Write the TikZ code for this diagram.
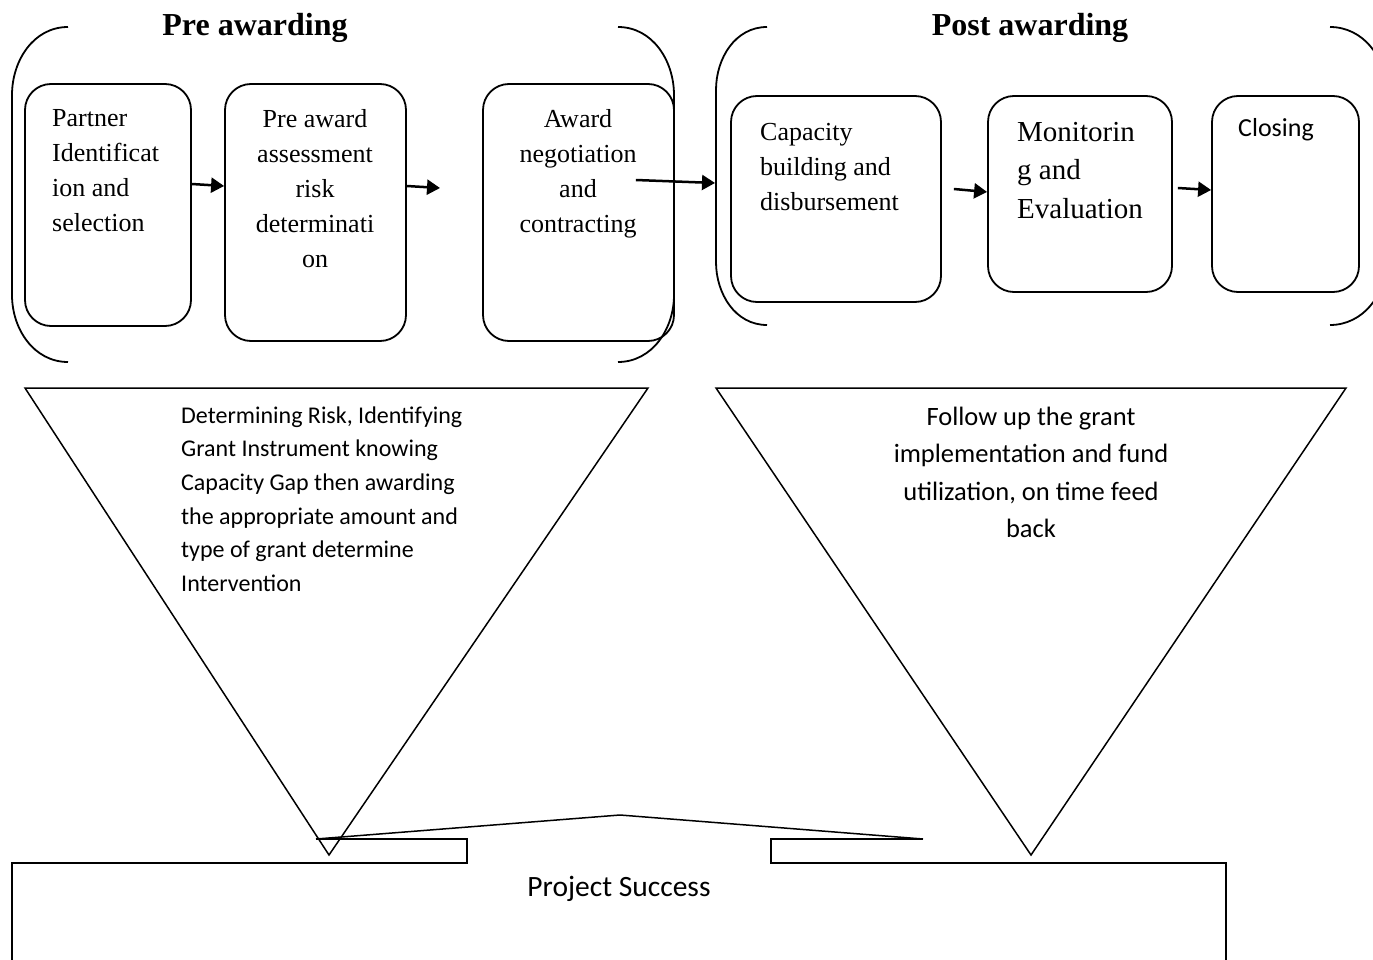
\documentclass[tikz,border=0pt]{standalone}
\usepackage{fontspec}
\setmainfont{Liberation Serif}
\newfontfamily\calibri{Carlito}
\usetikzlibrary{arrows.meta}

\begin{document}
\begin{tikzpicture}[x=1pt, y=-1pt,
		stage/.style = {draw, line width=1.8pt, rounded corners=26pt, inner sep=0pt},
		boxtext/.style = {inner sep=0pt, font=\fontsize{26}{35}\selectfont, execute at begin node=\strut},
		heading/.style = {inner sep=0pt, font=\fontsize{32}{36}\selectfont\bfseries},
		flow/.style = {line width=2.5pt, -{Triangle[length=13pt,width=15pt]}},
		bracket/.style = {line width=1.8pt},
		funnel/.style = {line width=1.5pt, line join=miter}]
	\useasboundingbox (0,0) rectangle (1373,960);

	% brackets and headings
	\draw[bracket] (68,27) to[out=180,in=90] (12,95) -- (12,295) to[out=-90,in=180] (68,362);
	\draw[bracket] (618,27) to[out=0,in=90] (674,95) -- (674,295) to[out=-90,in=0] (618,362);
	\draw[bracket] (767,27) to[out=180,in=90] (716,90) -- (716,262) to[out=-90,in=180] (767,325);
	\draw[bracket] (1330,27) to[out=0,in=90] (1386,90) -- (1386,262) to[out=-90,in=0] (1330,325);
	\node[heading, anchor=base] (preHead) at (255,36) {Pre awarding};
	\node[heading, anchor=base] (postHead) at (1030,36) {Post awarding};

	% stages
	\node[stage, minimum width=166pt, minimum height=242pt] (partner) at (108,205) {};
	\node[stage, minimum width=181pt, minimum height=257pt] (preaward) at (315.5,212.5) {};
	\node[stage, minimum width=191pt, minimum height=257pt] (award) at (578.5,212.5) {};
	\node[stage, minimum width=210pt, minimum height=206pt] (capacity) at (836,199) {};
	\node[stage, minimum width=184pt, minimum height=196pt] (monitor) at (1080,194) {};
	\node[stage, minimum width=147pt, minimum height=196pt] (closing) at (1285.5,194) {};

	\node[boxtext, anchor=north west, align=left] (partnerT) at (52,109) {Partner\\Identificat\\ion and\\selection};
	\node[boxtext, anchor=north, align=center] (preawardT) at (315,109) {Pre award\\assessment\\risk\\determinati\\on};
	\node[boxtext, anchor=north, align=center] (awardT) at (578,109) {Award\\negotiation\\and\\contracting};
	\node[boxtext, anchor=north west, align=left] (capacityT) at (760,123) {Capacity\\building and\\disbursement};
	\node[boxtext, anchor=north west, align=left, font=\fontsize{29}{38.5}\selectfont] (monitorT) at (1017,122) {Monitorin\\g and\\Evaluation};
	\node[inner sep=0pt, anchor=base west, font=\calibri\fontsize{26}{32}\selectfont] (closingT) at (1238,137) {Closing};

	\coordinate (gap) at (440,188);
	\coordinate (postIn) at (715,183);
	\draw[flow] ([yshift=21pt]partner.east) -- ([yshift=26.5pt]preaward.west);
	\draw[flow] ([yshift=26.5pt]preaward.east) -- (gap);
	\draw[flow] ([xshift=-39pt,yshift=32.5pt]award.east) -- (postIn);
	\draw[flow] ([xshift=12pt,yshift=10pt]capacity.east) -- ([yshift=2pt]monitor.west);
	\draw[flow] ([xshift=5pt,yshift=6pt]monitor.east) -- ([yshift=4pt]closing.west);

	% funnels
	\draw[funnel] (25,388) -- (648,388) -- (329,855) -- cycle;
	\draw[funnel] (716,388) -- (1346,388) -- (1031,855) -- cycle;
	\node[inner sep=0pt, anchor=north west, align=left, font=\calibri\fontsize{24}{33.6}\selectfont, execute at begin node=\strut] (riskT) at (181,406.5)
		{Determining Risk, Identifying\\Grant Instrument knowing\\Capacity Gap then awarding\\the appropriate amount and\\type of grant determine\\Intervention};
	\node[inner sep=0pt, anchor=north, align=center, font=\calibri\fontsize{26.5}{37.5}\selectfont, execute at begin node=\strut] (followT) at (1031,406.5)
		{Follow up the grant\\implementation and fund\\utilization, on time feed\\back};

	% roof and base
	\draw[funnel] (316,839) -- (620,815) -- (923,839);
	\draw[bracket] (316,839) -- (467,839) -- (467,863) -- (12,863) -- (12,975);
	\draw[bracket] (923,839) -- (771,839) -- (771,863) -- (1226,863) -- (1226,975);
	\node[inner sep=0pt, anchor=base, font=\calibri\fontsize{29.5}{34}\selectfont] (success) at (619,896) {Project Success};
\end{tikzpicture}
\end{document}
